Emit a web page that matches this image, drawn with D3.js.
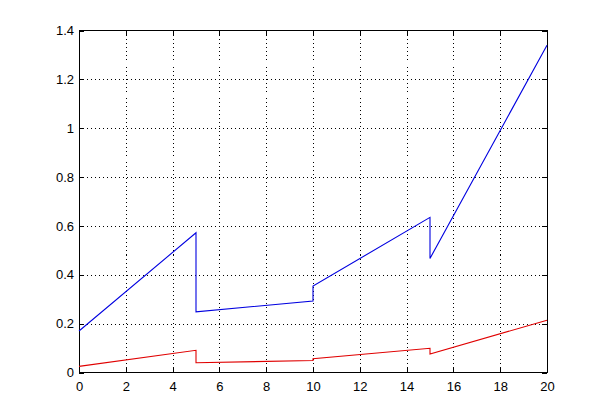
<!DOCTYPE html>
<html>
<head>
<meta charset="utf-8">
<script src="https://cdn.jsdelivr.net/npm/d3@7"></script>
<style>
  body { margin: 0; background: #fff; }
  text { font-family: "Liberation Sans", Arial, sans-serif; font-size: 13px; fill: #000; }
</style>
</head>
<body>
<div id="chart"></div>
<script>
// values (jumps at x = 5, 10, 15)
const xPts = [0, 5, 5, 10, 10, 15, 15, 20];
const blueY = [0.17, 0.572, 0.248, 0.293, 0.354, 0.635, 0.467, 1.34];
const redY = [0.025, 0.091, 0.040, 0.049, 0.056, 0.099, 0.076, 0.214];
const xTicks = [0, 2, 4, 6, 8, 10, 12, 14, 16, 18, 20];
const yTicks = [0, 0.2, 0.4, 0.6, 0.8, 1, 1.2, 1.4];

const w = 604, h = 419;
const plotL = 79, plotR = 547, plotT = 30.5, plotB = 372.5;

const svg = d3.select("#chart").append("svg")
    .attr("width", w)
    .attr("height", h);

const x = d3.scaleLinear().domain([0, 20]).range([plotL, plotR]);
const y = d3.scaleLinear().domain([0, 1.4]).range([plotB, plotT]);

// grid
const grid = svg.append("g")
    .attr("stroke", "#000")
    .attr("stroke-width", 1)
    .attr("stroke-dasharray", "1,3")
    .attr("shape-rendering", "crispEdges");
grid.selectAll(".gx")
    .data(xTicks.slice(1, -1))
    .enter().append("line")
    .attr("x1", d => Math.round(x(d)) + 0.5)
    .attr("x2", d => Math.round(x(d)) + 0.5)
    .attr("y1", plotT)
    .attr("y2", plotB);
grid.selectAll(".gy")
    .data(yTicks.slice(1, -1))
    .enter().append("line")
    .attr("y1", d => Math.round(y(d)) + 0.5)
    .attr("y2", d => Math.round(y(d)) + 0.5)
    .attr("x1", plotL)
    .attr("x2", plotR);

// box
svg.append("rect")
    .attr("x", plotL)
    .attr("y", plotT)
    .attr("width", plotR - plotL)
    .attr("height", plotB - plotT)
    .attr("fill", "none")
    .attr("stroke", "#000")
    .attr("shape-rendering", "crispEdges");

// axes with inward ticks
const xAxis = svg.append("g")
    .attr("transform", "translate(0," + plotB + ")")
    .call(d3.axisBottom(x).tickValues(xTicks).tickSize(-5).tickPadding(9).tickFormat(d3.format("d")));
const xAxisTop = svg.append("g")
    .attr("transform", "translate(0," + plotT + ")")
    .call(d3.axisTop(x).tickValues(xTicks).tickSize(-5).tickFormat(""));
const yAxis = svg.append("g")
    .attr("transform", "translate(" + plotL + ",0)")
    .call(d3.axisLeft(y).tickValues(yTicks).tickSize(-5).tickPadding(5).tickFormat(d => String(+d.toFixed(1))));
const yAxisRight = svg.append("g")
    .attr("transform", "translate(" + plotR + ",0)")
    .call(d3.axisRight(y).tickValues(yTicks).tickSize(-5).tickFormat(""));

[xAxis, xAxisTop, yAxis, yAxisRight].forEach(a => {
    a.select(".domain").remove();
    a.selectAll("line").attr("stroke", "#000").attr("shape-rendering", "crispEdges");
    a.selectAll("text").attr("font-size", 13).attr("font-family", "Liberation Sans, Arial, sans-serif");
});

// series
const line = d3.line()
    .x(d => x(d[0]))
    .y(d => y(d[1]));

svg.append("path")
    .datum(xPts.map((v, i) => [v, redY[i]]))
    .attr("d", line)
    .attr("fill", "none")
    .attr("stroke", "#e00000")
    .attr("stroke-width", 1.1);

svg.append("path")
    .datum(xPts.map((v, i) => [v, blueY[i]]))
    .attr("d", line)
    .attr("fill", "none")
    .attr("stroke", "#0000e0")
    .attr("stroke-width", 1.1);
</script>
</body>
</html>
